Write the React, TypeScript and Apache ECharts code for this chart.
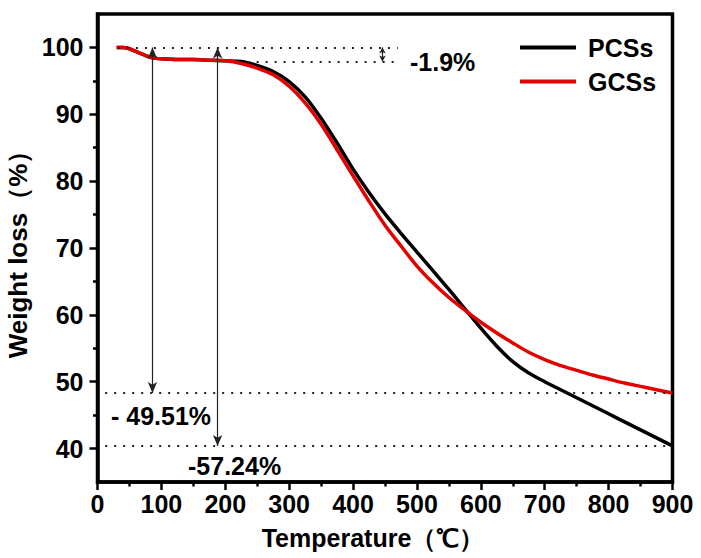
import React, { useEffect, useRef } from "react";
import * as echarts from "echarts";

const temps = [30, 40, 50, 60, 70, 80, 90, 100, 125, 150, 175, 200, 225, 250, 275, 300, 325, 350, 375, 400, 425, 450, 475, 500, 525, 550, 575, 600, 625, 650, 675, 700, 725, 750, 775, 800, 825, 850, 875, 900];
const pcss = [100.0, 100.0, 99.8, 99.4, 99.0, 98.6, 98.4, 98.3, 98.2, 98.2, 98.1, 98.0, 97.9, 97.3, 96.4, 94.9, 92.6, 89.4, 85.7, 81.8, 78.3, 75.1, 72.2, 69.4, 66.6, 63.8, 60.9, 58.0, 55.3, 53.0, 51.3, 50.0, 48.8, 47.6, 46.4, 45.2, 44.0, 42.8, 41.6, 40.4];
const gcss = [100.0, 100.0, 99.8, 99.4, 99.0, 98.6, 98.4, 98.3, 98.2, 98.2, 98.1, 98.0, 97.6, 96.9, 95.9, 94.2, 91.7, 88.5, 84.7, 80.8, 77.0, 73.4, 70.3, 67.3, 64.8, 62.6, 60.7, 58.9, 57.3, 55.8, 54.4, 53.3, 52.4, 51.7, 51.0, 50.4, 49.8, 49.3, 48.8, 48.3];
const seriesNames = ["PCSs", "GCSs"];
const yMajorTicks = [40, 50, 60, 70, 80, 90, 100];
const yMinorTicks = [45, 55, 65, 75, 85, 95];
const annotationTexts = ["-1.9%", "- 49.51%", "-57.24%"];

const FONT = "'Liberation Sans', Arial, sans-serif";

export default function App() {
  const ref = useRef<HTMLDivElement>(null);
  useEffect(() => {
    if (!ref.current) return;
    const chart = echarts.init(ref.current, undefined, { renderer: "svg" });
    const dotted = { type: [2, 7] as any, width: 1.8, color: "#222" };
    const arrowLine = { type: "solid" as any, width: 1.2, color: "#222" };
    chart.setOption({
      animation: false,
      backgroundColor: "#fff",
      textStyle: { fontFamily: FONT },
      grid: {
        left: 97.5, right: 28.5, top: 14, bottom: 76,
        outerBoundsMode: "none",
        containLabel: false,
        show: true, borderColor: "#000", borderWidth: 3.5, backgroundColor: "transparent",
      },
      legend: {
        data: seriesNames,
        orient: "vertical",
        left: 520,
        top: 35,
        padding: 0,
        itemWidth: 56,
        itemHeight: 4,
        itemGap: 9,
        icon: "rect",
        textStyle: { fontSize: 25, fontWeight: "bold", color: "#000", fontFamily: FONT, padding: [0, 0, 0, 7], lineHeight: 25 },
      },
      xAxis: {
        type: "value", min: 0, max: 900, interval: 100,
        name: "Temperature（℃）", nameLocation: "middle", nameGap: 43,
        nameTextStyle: { fontSize: 25, fontWeight: "bold", color: "#000", fontFamily: FONT, padding: [0, 24, 0, 0] },
        axisLine: { show: true, lineStyle: { color: "#000", width: 3.5 } },
        axisTick: { show: true, length: 8, lineStyle: { color: "#000", width: 2.5 } },
        minorTick: { show: true, splitNumber: 2, length: 4.5, lineStyle: { color: "#000", width: 2.5 } },
        axisLabel: { fontSize: 25, fontWeight: "bold", color: "#000", margin: 9, fontFamily: FONT },
        splitLine: { show: false },
      },
      yAxis: [
        {
          type: "value", min: 35, max: 105,
          name: "Weight loss（%）", nameLocation: "middle", nameGap: 47,
          nameTextStyle: { fontSize: 26, fontWeight: "bold", color: "#000", fontFamily: FONT },
          axisLine: { show: true, lineStyle: { color: "#000", width: 3.5 } },
          axisTick: { show: true, length: 8, customValues: yMajorTicks, lineStyle: { color: "#000", width: 2.5 } },
          axisLabel: { fontSize: 25, fontWeight: "bold", color: "#000", margin: 14, customValues: yMajorTicks, fontFamily: FONT },
          splitLine: { show: false },
        },
        {
          type: "value", min: 35, max: 105, position: "left",
          axisLine: { show: false },
          axisTick: { show: true, length: 4.5, customValues: yMinorTicks, lineStyle: { color: "#000", width: 2.5 } },
          axisLabel: { show: false },
          splitLine: { show: false },
        },
      ],
      series: [
        {
          name: seriesNames[0], type: "line", smooth: 0.3, showSymbol: false, symbol: "none",
          data: temps.map((t, i) => [t, pcss[i]]),
          lineStyle: { color: "#000", width: 3.5 }, itemStyle: { color: "#000" },
          z: 2,
          markLine: {
            silent: true, symbol: ["none", "none"], label: { show: false },
            data: [
              [{ coord: [32, 100], lineStyle: dotted }, { coord: [470, 100] }],
              [{ coord: [235, 97.9], lineStyle: dotted }, { coord: [470, 97.9] }],
              [{ coord: [12, 48.3], lineStyle: dotted }, { coord: [900, 48.3] }],
              [{ coord: [12, 40.4], lineStyle: dotted }, { coord: [900, 40.4] }],
              [{ coord: [86, 100], lineStyle: arrowLine, symbol: "arrow", symbolSize: [7, 11] }, { coord: [86, 48.3], symbol: "arrow", symbolSize: [7, 11] }],
              [{ coord: [188, 100], lineStyle: arrowLine, symbol: "arrow", symbolSize: [7, 11] }, { coord: [188, 40.4], symbol: "arrow", symbolSize: [7, 11] }],
              [{ coord: [446, 100], lineStyle: arrowLine, symbol: "arrow", symbolSize: [5, 6] }, { coord: [446, 97.9], symbol: "arrow", symbolSize: [5, 6] }],
            ],
          },
        },
        {
          name: seriesNames[1], type: "line", smooth: 0.3, showSymbol: false, symbol: "none",
          data: temps.map((t, i) => [t, gcss[i]]),
          lineStyle: { color: "#e30000", width: 3.5 }, itemStyle: { color: "#e30000" },
          z: 3,
        },
      ],
      graphic: [
        { type: "text", left: 410, top: 49, style: { text: annotationTexts[0], font: `bold 25px ${FONT}`, fill: "#000" } },
        { type: "text", left: 111, top: 403, style: { text: annotationTexts[1], font: `bold 25px ${FONT}`, fill: "#000" } },
        { type: "text", left: 188, top: 453, style: { text: annotationTexts[2], font: `bold 25px ${FONT}`, fill: "#000" } },
      ],
    });
    return () => chart.dispose();
  }, []);
  return <div ref={ref} style={{ position: "fixed", left: 0, top: 0, width: 701, height: 558 }} />;
}
